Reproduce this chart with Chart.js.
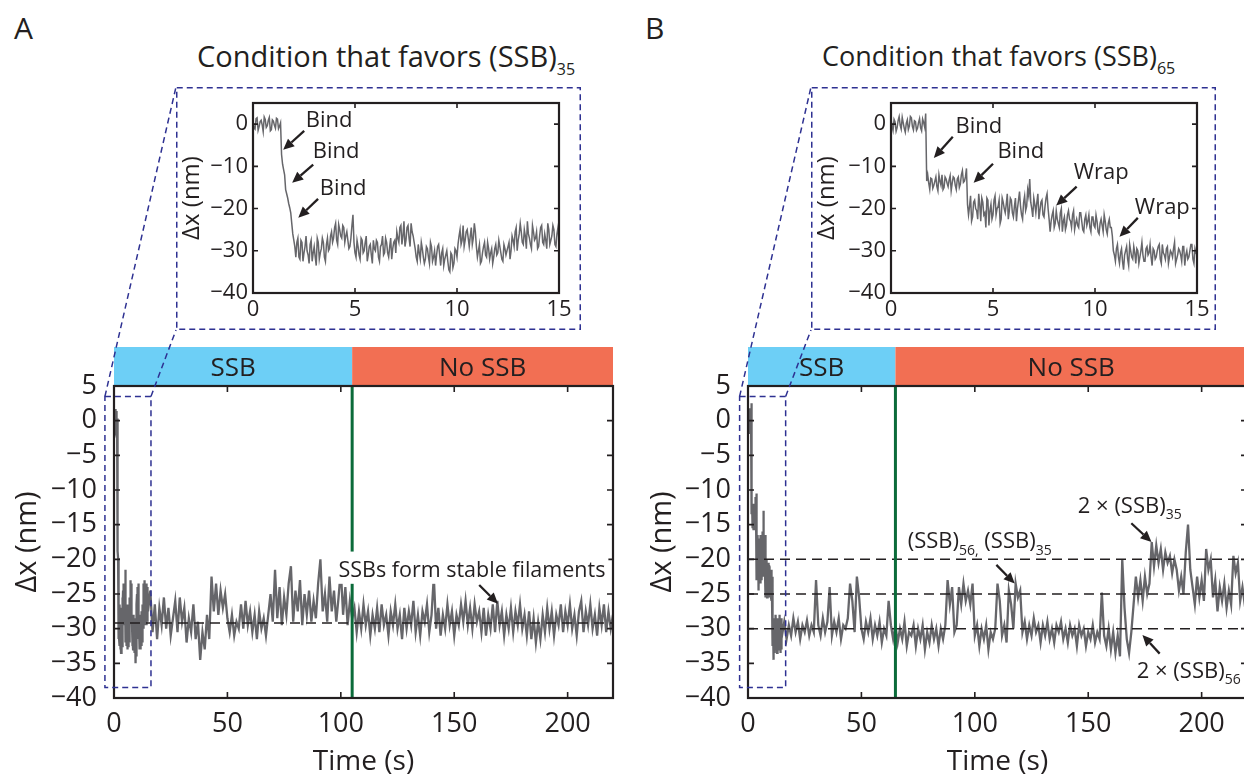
<!DOCTYPE html>
<html>
<head>
<meta charset="utf-8">
<script src="https://cdn.jsdelivr.net/npm/chart.js@4.4.1/dist/chart.umd.min.js"></script>
<style>
  html, body { margin: 0; padding: 0; background: #fff; width: 1244px; height: 776px; overflow: hidden; }
  body { position: relative; font-family: "Open Sans", sans-serif; color: #231f20; }
  canvas { position: absolute; display: block; }
  .lbl { position: absolute; white-space: nowrap; line-height: 1; }
  .sub { font-size: 16px; position: relative; top: 8px; }
</style>
</head>
<body>
<div class="lbl" style="left:14px; top:13px; font-size:30px;">A</div>
<div class="lbl" style="left:645px; top:13px; font-size:30px;">B</div>
<div class="lbl" style="left:197px; top:41px; font-size:29px;">Condition that favors (SSB)<span class="sub">35</span></div>
<div class="lbl" style="left:822px; top:42px; font-size:27px;">Condition that favors (SSB)<span class="sub">65</span></div>

<canvas id="mainA"></canvas>
<canvas id="mainB"></canvas>
<canvas id="insetA"></canvas>
<canvas id="insetB"></canvas>

<script>
// ---- Recorded extension traces (nm) ----
// First 15 s: samples at 0.0, 0.1, ... 15.0 s and the in-between samples at 0.05, 0.15, ... 14.95 s
const insetStep = 0.1;
const insetA = [
  0.8, -1.2, 1.5, -0.6, 0.9, -1.8, 1.1, -0.4, 1.6, -1.3, 0.7, -1.0, 1.2, -0.5,
  -7.2, -10.8, -15.5, -17.5, -19.8, -23.5, -27.5,
  -31.5, -27.0, -32.0, -28.0, -30.5, -26.5, -31.0, -28.5, -32.5, -29.0, -33.5, -28.0, -30.5, -27.0, -31.5, -28.5, -30.0, -26.5,
  -28.0, -24.5, -27.5, -23.8, -26.5, -24.0, -28.0, -25.5,
  -29.5, -27.0, -21.5, -30.5, -27.5,
  -31.0, -27.0, -30.5, -28.0, -32.5, -29.0, -31.0, -27.5, -30.0, -28.0, -32.5, -28.5, -31.0, -27.0, -30.5, -29.0, -32.0, -28.0, -30.5,
  -27.0, -24.5, -28.5, -23.0, -27.5, -24.0, -29.0, -25.5, -28.0,
  -31.5, -28.5, -32.0, -29.5, -33.0, -29.0, -31.5, -28.0, -32.5, -30.0, -31.0, -28.5, -33.5, -29.5, -32.0, -30.0, -34.5, -30.5, -34.0, -29.5, -31.5,
  -26.5, -28.5, -24.0, -27.5, -25.0, -29.0, -24.5, -27.0, -25.5,
  -31.5, -28.5, -32.5, -29.0, -31.0, -28.0, -32.0, -29.5, -31.5, -28.5, -30.5, -29.0, -32.0, -28.5, -31.0, -29.0, -32.0,
  -26.5, -29.0, -24.5, -27.5, -23.5, -28.0, -25.0, -29.5, -26.0, -28.5, -24.0, -27.5, -25.5, -29.0, -24.5, -28.0, -26.0, -29.5, -25.0, -27.5, -24.0, -28.5, -26.0, -27.5
];
const insetAMid = [
  -0.9, 1.3, -1.5, 0.6, -0.2, 1.7, -0.8, 0.9, -1.6, 1.0, -0.3, 1.4, -1.1, 0.3,
  -9.5, -12.0, -16.5, -18.8, -21.0, -26.0,
  -29.0,
  -28.0, -31.5, -27.5, -32.5, -29.0, -30.0, -33.0, -27.5, -30.5, -31.5, -27.0, -32.0, -29.5, -28.0, -32.5, -27.0, -29.5,
  -25.5, -27.0, -23.5, -28.5, -25.0, -27.0, -24.5, -26.5,
  -27.5, -29.0, -24.0, -28.0, -31.5,
  -29.0, -32.0, -27.5, -30.0, -26.5, -31.0, -28.5, -33.0, -29.5, -27.5, -31.5, -29.0, -26.5, -30.5, -28.0, -31.5, -27.0, -29.5, -27.5,
  -25.5, -28.0, -24.0, -26.5, -29.0, -24.5, -27.0, -23.5, -26.5,
  -29.5, -32.5, -30.5, -28.0, -31.5, -32.0, -29.5, -33.0, -29.0, -31.5, -33.5, -29.0, -31.0, -30.5, -33.5, -31.0, -32.5, -35.0, -31.0, -33.0, -30.0,
  -28.5, -25.0, -27.5, -29.0, -25.5, -27.0, -26.5, -28.5, -23.5,
  -29.0, -30.0, -33.0, -30.5, -28.0, -31.5, -29.5, -30.5, -33.0, -29.5, -31.0, -27.5, -30.5, -32.5, -29.5, -30.0, -28.0,
  -30.0, -27.5, -25.5, -30.0, -26.0, -25.5, -28.5, -26.5, -23.0, -27.0, -29.5, -25.5, -27.0, -29.5, -26.5, -24.0, -28.5, -27.5, -23.5, -28.5, -26.5, -25.0, -29.0, -24.5
];
const insetB = [
  1.2, -1.5, 0.5, -0.8, 1.8, -1.2, 0.3, -1.9, 1.0, -0.5, 1.5, -1.4, 0.6, -1.0, 1.3, -1.6, 0.4, 2.5,
  -12.0, -15.5, -13.0, -14.5, -12.5, -15.8, -13.5, -12.0, -15.0, -13.0, -14.8, -12.2, -14.0, -12.8, -15.5, -12.5, -14.2, -11.0, -13.5, -10.5,
  -21.5, -17.0, -22.0, -18.0, -20.5, -16.5, -23.0, -18.5, -21.0, -17.5, -24.0, -19.0, -21.5, -17.0, -20.0, -18.0, -22.5, -18.5, -21.0, -16.5,
  -20.5, -18.0, -22.0, -17.5, -20.0, -16.0, -21.5, -18.5, -20.5, -15.5, -13.0, -20.0, -17.5, -21.0, -16.5, -20.5, -18.0, -22.0, -17.5, -20.0,
  -25.5, -21.5, -24.5, -20.5, -23.5, -21.0, -25.5, -22.0, -24.0, -20.5, -23.0, -21.5, -25.0, -22.5, -24.5, -21.0, -25.0, -22.5, -24.0, -21.5,
  -25.5, -22.0, -24.5, -23.0, -26.0, -22.5, -25.5, -23.0, -26.0, -22.5, -24.5,
  -30.0, -32.5, -28.5, -33.0, -29.5, -34.5, -30.0, -32.0, -28.5, -31.5, -29.0, -33.0, -30.0, -31.5, -28.0, -32.5, -29.5, -31.0, -28.5, -33.5,
  -30.0, -31.5, -29.0, -32.0, -28.5, -31.0, -29.5, -33.0, -30.0, -31.5, -28.0, -32.0, -29.5, -31.0, -29.0, -33.5, -30.0, -31.5, -28.5, -32.0, -29.5, -31.0
];
const insetBMid = [
  -0.4, 1.1, -1.7, 0.9, -0.3, 1.6, -1.0, 0.2, -1.3, 1.8, -0.6, 0.8, -1.5, 0.4, -0.9, 1.2, -0.7,
  -13.5,
  -14.0, -12.8, -15.2, -13.5, -14.8, -12.0, -14.5, -15.5, -12.5, -14.0, -13.2, -15.8, -12.5, -14.5, -13.0, -15.0, -12.0, -13.8, -12.5, -19.0,
  -19.5, -23.0, -18.5, -20.0, -22.5, -19.0, -17.5, -21.5, -24.5, -18.0, -20.5, -22.5, -18.0, -21.5, -19.5, -23.5, -17.5, -20.0, -19.0, -22.5,
  -17.5, -21.0, -19.5, -23.0, -18.0, -19.5, -22.5, -17.0, -19.5, -17.0, -18.5, -22.0, -19.0, -18.5, -22.5, -18.5, -21.5, -19.5, -16.5, -22.5,
  -23.0, -20.5, -23.5, -22.5, -24.5, -20.0, -23.0, -25.0, -21.5, -22.5, -24.5, -20.5, -23.5, -24.0, -21.0, -23.0, -25.5, -21.5, -23.0, -24.5,
  -22.0, -24.0, -21.5, -25.5, -23.5, -24.0, -21.5, -25.0, -23.5, -24.5, -26.5,
  -31.0, -29.5, -31.5, -30.5, -32.5, -31.0, -29.0, -33.5, -30.0, -32.0, -30.5, -29.5, -33.0, -30.0, -31.0, -32.5, -29.0, -30.5, -31.5, -29.5,
  -32.0, -30.0, -28.5, -33.0, -30.5, -32.0, -29.0, -31.5, -30.5, -29.5, -33.0, -31.0, -30.0, -32.5, -29.0, -31.0, -32.0, -30.0, -28.5, -33.0, -30.5
];
// Remainder of each run, one sample per second from 16 s to 220 s
const tailStart = 16;
const tailA = [
  -24.5, -30.5, -26.5, -31.5, -27.0,
  -29.5, -25.5, -30.0, -27.0, -31.0, -28.5, -26.0, -30.5, -25.5, -29.0,
  -27.0, -32.0, -28.5, -30.5, -26.5,
  -31.5, -29.0, -34.5, -30.5, -33.0, -28.0, -31.5,
  -22.5, -27.5, -23.5, -28.0, -24.5, -27.0, -25.0, -28.5,
  -30.5, -28.0, -31.0, -29.0, -30.0,
  -26.5, -30.0, -26.0, -29.5, -27.5,
  -30.5, -28.0, -31.5, -27.5, -30.0, -28.5, -31.0, -28.0,
  -25.0, -29.0, -21.5, -28.5, -24.0, -29.5, -25.5,
  -28.0, -23.5, -21.0, -29.0, -24.5, -27.5, -23.0, -29.5, -25.0, -28.0,
  -24.5, -29.0, -26.0, -28.5, -23.5, -20.0, -27.5, -25.0, -29.0, -22.5,
  -27.5, -24.5, -29.0, -25.5, -21.5, -28.0, -24.0, -29.5, -26.0, -28.5,
  -27.0, -30.5, -27.5, -30.0, -26.5, -29.5, -27.5, -31.0, -28.0, -30.0,
  -27.0, -30.5, -26.5, -29.5, -28.0, -31.0, -27.5, -29.5, -26.5, -30.0,
  -28.0, -31.5, -27.0, -30.0, -27.5, -29.5, -26.0, -30.5, -28.0, -31.0,
  -27.5, -29.0, -26.5, -30.5, -28.0, -22.5, -30.0, -27.0, -31.0, -28.0,
  -30.0, -26.5, -29.5, -27.5, -31.0, -28.0, -29.5, -26.5, -29.0, -26.0,
  -29.5, -27.0, -30.0, -26.5, -29.0, -27.5, -30.5, -27.0, -31.0, -28.0,
  -30.0, -26.5, -30.5, -26.0, -29.5, -27.5, -31.0, -28.0, -30.0, -27.0,
  -30.5, -27.5, -29.5, -26.5, -30.0, -28.0, -31.0, -27.5, -31.5, -28.5,
  -32.0, -29.0, -31.5, -28.0, -30.5, -27.0, -30.0, -27.5, -31.0, -28.0,
  -29.5, -26.5, -30.5, -27.5, -29.5, -26.5, -30.0, -28.0, -31.0, -27.5,
  -26.0, -30.5, -27.5, -29.5, -26.5, -30.0, -28.0, -31.0, -27.0, -29.5,
  -26.5, -30.5, -27.5, -30.0, -28.0
];
const tailB = [
  -29.0, -31.5, -29.5, -31.0, -28.5, -30.5, -29.0, -31.5, -29.5, -30.5, -28.8, -31.0, -29.5, -30.5,
  -23.0,
  -29.5, -31.0, -28.5, -30.5, -29.0,
  -24.0,
  -31.0, -29.0, -30.5, -28.5, -31.5, -29.5, -30.0, -28.5,
  -23.5, -26.0, -30.5, -22.5, -25.5,
  -30.0, -31.5, -29.0, -30.5, -28.5, -31.5, -29.5, -31.0, -29.0, -32.0, -30.0, -31.0,
  -26.0,
  -29.5, -31.5, -29.5, -32.0, -30.0, -31.5, -29.0, -32.5, -30.5, -31.0, -29.5, -32.5, -30.0,
  -31.5, -29.5, -33.0, -30.5, -32.0, -29.5, -31.5, -30.0, -32.5, -30.0, -31.5, -29.5,
  -23.0, -26.5, -24.0,
  -30.5, -29.5,
  -24.0, -26.5, -23.5, -26.0, -24.5, -26.5, -23.5,
  -31.0, -29.5, -32.5, -30.0, -31.5, -29.5, -33.0, -30.5, -31.5, -30.0,
  -23.5, -26.0,
  -31.0, -29.5, -32.0,
  -24.5, -26.5, -30.0, -23.5, -25.5, -24.5,
  -30.5, -29.0, -31.5, -29.5, -31.0, -28.5, -30.5, -29.5, -32.0, -29.5, -31.0, -29.0, -31.5, -30.0, -32.0,
  -29.5, -30.5, -29.0, -31.5, -30.0, -32.0, -29.5, -31.0, -30.0, -32.5, -29.5, -31.0, -30.0, -32.5, -30.5,
  -31.5, -29.5, -32.0, -30.5, -31.5,
  -24.8,
  -31.0, -32.5, -30.0, -33.0, -30.5, -33.5, -31.0, -34.0,
  -20.0, -27.0, -31.5, -33.5, -30.5,
  -26.5, -22.5, -25.5, -23.0, -26.0, -22.5, -25.0, -23.5,
  -17.5, -21.0, -18.0, -20.5, -18.5, -21.5, -19.0, -20.5, -19.5, -22.0, -20.0, -21.5,
  -24.5, -22.5, -25.0,
  -19.0, -15.0, -21.5,
  -24.0, -26.5, -22.5, -25.5, -23.0, -26.0,
  -18.5, -21.5, -20.0,
  -25.5, -23.0, -27.5, -24.0, -26.0, -23.5, -27.0, -24.5, -26.5,
  -19.5, -22.0, -20.5,
  -26.0, -24.0, -26.5, -24.5
];

// Protocol phases (s) and reference levels (nm)
const switchA = 105, switchB = 65, runEnd = 220;
const phaseLabels = ['SSB', 'No SSB'];
const levelsA = [-29.2];
const levelsB = [-20, -25, -30];

// ---- Styling ----
const FONT = '"Open Sans", sans-serif';
const INK = '#231f20';
const TRACE = '#66666a';
const NAVY = '#2e3192';
const SKY = '#6dcff6';
const CORAL = '#f26f53';
const GREEN = '#0b6b3a';

// Canvas placement (page px) and the plot area inside each
const frames = {
  mainA:  { left: 0,   top: 80, width: 625, height: 696, area: { left: 114, top: 386, right: 613,  bottom: 698 } },
  mainB:  { left: 630, top: 80, width: 630, height: 696, area: { left: 748, top: 386, right: 1247, bottom: 698 } },
  insetA: { left: 176, top: 87, width: 405, height: 243, area: { left: 253, top: 103, right: 559,  bottom: 293 } },
  insetB: { left: 811, top: 87, width: 405, height: 243, area: { left: 891, top: 103, right: 1197, bottom: 293 } }
};

function series(values, start, step) {
  return values.map((v, i) => ({ x: +(start + i * step).toFixed(2), y: v }));
}
function merged(a, b) {
  return a.concat(b).sort((p, q) => p.x - q.x);
}
const headA = merged(series(insetA, 0, insetStep), series(insetAMid, insetStep / 2, insetStep));
const headB = merged(series(insetB, 0, insetStep), series(insetBMid, insetStep / 2, insetStep));
const fullA = headA.concat(series(tailA, tailStart, 1));
const fullB = headB.concat(series(tailB, tailStart, 1));

const fmt = v => (v < 0 ? '\u2212' + Math.abs(v) : String(v));

function richText(ctx, parts, x, y, size, align) {
  const widths = parts.map(p => {
    ctx.font = (p[1] ? Math.round(size * 0.62) : size) + 'px ' + FONT;
    return ctx.measureText(p[0]).width;
  });
  const total = widths.reduce((a, b) => a + b, 0);
  let cx = align === 'center' ? x - total / 2 : x;
  ctx.textAlign = 'left';
  ctx.textBaseline = 'alphabetic';
  parts.forEach((p, i) => {
    ctx.font = (p[1] ? Math.round(size * 0.62) : size) + 'px ' + FONT;
    ctx.fillText(p[0], cx, p[1] ? y + size * 0.3 : y);
    cx += widths[i];
  });
}

function arrow(ctx, x0, y0, x1, y1) {
  const a = Math.atan2(y1 - y0, x1 - x0), head = 11, half = 5;
  const bx = x1 - head * Math.cos(a), by = y1 - head * Math.sin(a);
  ctx.strokeStyle = INK; ctx.fillStyle = INK; ctx.lineWidth = 2.3;
  ctx.beginPath(); ctx.moveTo(x0, y0); ctx.lineTo(bx, by); ctx.stroke();
  ctx.beginPath();
  ctx.moveTo(x1, y1);
  ctx.lineTo(bx + half * Math.sin(a), by - half * Math.cos(a));
  ctx.lineTo(bx - half * Math.sin(a), by + half * Math.cos(a));
  ctx.closePath(); ctx.fill();
}

const decor = {
  id: 'decor',
  afterDatasetsDraw(chart, args, o) {
    const { ctx, chartArea: ca, scales: { x, y } } = chart;
    const px = v => x.getPixelForValue(v), py = v => y.getPixelForValue(v);
    ctx.save();

    // dashed reference levels
    ctx.strokeStyle = INK; ctx.lineWidth = 1.5; ctx.setLineDash([10, 6]);
    (o.levels || []).forEach(l => {
      ctx.beginPath(); ctx.moveTo(ca.left, py(l)); ctx.lineTo(ca.right, py(l)); ctx.stroke();
    });
    ctx.setLineDash([]);

    // buffer exchange marker
    if (o.switchAt != null) {
      ctx.strokeStyle = GREEN; ctx.lineWidth = 3;
      ctx.beginPath(); ctx.moveTo(px(o.switchAt), ca.top); ctx.lineTo(px(o.switchAt), ca.bottom); ctx.stroke();
    }

    // phase bar above the plot
    if (o.phases) {
      o.phases.forEach(ph => {
        const l = px(ph.from), r = px(ph.to);
        ctx.fillStyle = ph.color;
        ctx.fillRect(l, ca.top - o.barHeight, r - l, o.barHeight);
        ctx.fillStyle = INK;
        richText(ctx, [[ph.label]], (l + r) / 2, ca.top - o.barHeight / 2 + 9, 26, 'center');
      });
    }

    // axes box with inward ticks on all four sides
    ctx.strokeStyle = INK; ctx.lineWidth = 1.6;
    const tl = o.tickLen;
    x.ticks.forEach(t => {
      const p = px(t.value);
      ctx.beginPath(); ctx.moveTo(p, ca.bottom); ctx.lineTo(p, ca.bottom - tl);
      ctx.moveTo(p, ca.top); ctx.lineTo(p, ca.top + tl); ctx.stroke();
    });
    y.ticks.forEach(t => {
      const p = py(t.value);
      ctx.beginPath(); ctx.moveTo(ca.left, p); ctx.lineTo(ca.left + tl, p);
      ctx.moveTo(ca.right, p); ctx.lineTo(ca.right - tl, p); ctx.stroke();
    });
    ctx.lineWidth = 2.2;
    ctx.strokeRect(ca.left, ca.top, ca.right - ca.left, ca.bottom - ca.top);

    // annotations
    (o.arrows || []).forEach(a => arrow(ctx, px(a.from[0]), py(a.from[1]), px(a.to[0]), py(a.to[1])));
    (o.notes || []).forEach(n => {
      const size = n.size;
      if (n.bg) {
        ctx.font = size + 'px ' + FONT;
        const w = n.parts.reduce((s, p) => s + ctx.measureText(p[0]).width, 0);
        const lx = n.align === 'center' ? px(n.x) - w / 2 : px(n.x);
        ctx.fillStyle = '#fff';
        ctx.fillRect(lx - 3, py(n.y) - size * 1.2, w + 6, size * 1.5);
      }
      ctx.fillStyle = INK;
      richText(ctx, n.parts, px(n.x), py(n.y), size, n.align);
    });

    // enlarged-region box and its leader lines to the inset
    if (o.zoom) {
      const z = o.zoom, off = o.offset, ins = o.inset;
      const l = px(z.x0), r = px(z.x1), t = py(z.y1), b = py(z.y0);
      const il = ins.left - off.left, it = ins.top - off.top, ib = ins.top + ins.height - off.top;
      ctx.strokeStyle = NAVY; ctx.lineWidth = 1.5; ctx.setLineDash([6, 4]);
      ctx.strokeRect(l, t, r - l, b - t);
      ctx.beginPath(); ctx.moveTo(l, t); ctx.lineTo(il, it); ctx.stroke();
      ctx.beginPath(); ctx.moveTo(r, t); ctx.lineTo(il, ib); ctx.stroke();
      ctx.setLineDash([]);
    }
    if (o.outline) {
      ctx.strokeStyle = NAVY; ctx.lineWidth = 1.5; ctx.setLineDash([6, 4]);
      ctx.strokeRect(0.75, 0.75, chart.width - 1.5, chart.height - 1.5);
      ctx.setLineDash([]);
    }
    ctx.restore();
  }
};

function build(id, o) {
  const f = frames[id];
  const cv = document.getElementById(id);
  cv.width = f.width; cv.height = f.height;
  cv.style.left = f.left + 'px'; cv.style.top = f.top + 'px';
  const L = f.area.left - f.left, T = f.area.top - f.top;
  const R = f.left + f.width - f.area.right, B = f.top + f.height - f.area.bottom;
  return new Chart(cv, {
    type: 'line',
    data: { datasets: [{ data: o.points, borderColor: TRACE, borderWidth: o.lineWidth, borderJoinStyle: 'miter', pointRadius: 0, tension: 0, fill: false }] },
    options: {
      responsive: false, animation: false, events: [], devicePixelRatio: 1,
      layout: { padding: { left: 0, top: T, right: R, bottom: 0 } },
      plugins: { legend: { display: false }, tooltip: { enabled: false }, decor: o.decor },
      scales: {
        x: {
          type: 'linear', min: 0, max: o.xMax,
          afterFit: s => { s.height = B; },
          grid: { display: false, drawTicks: false }, border: { display: false },
          ticks: { stepSize: o.xStep, includeBounds: false, autoSkip: false, maxRotation: 0,
                   padding: o.xPad, color: INK, font: { family: FONT, size: o.tickSize, lineHeight: 1 }, callback: v => fmt(v) },
          title: o.xTitle
            ? { display: true, text: o.xTitle, color: INK, font: { family: FONT, size: o.titleSize, lineHeight: 1 }, padding: { top: 0, bottom: o.xTitlePad } }
            : { display: false }
        },
        y: {
          type: 'linear', min: -40, max: 5,
          afterFit: s => { s.width = L; },
          grid: { display: false, drawTicks: false }, border: { display: false },
          ticks: { stepSize: 5, padding: o.yPad, color: INK, font: { family: FONT, size: o.tickSize, lineHeight: 1 },
                   callback: v => (v % o.yLabelEvery === 0 ? fmt(v) : '') },
          title: { display: true, text: '\u0394x (nm)', color: INK, font: { family: FONT, size: o.yTitleSize, lineHeight: 1 },
                   padding: { top: o.yTitlePad, bottom: 0 } }
        }
      }
    },
    plugins: [decor]
  });
}

build('mainA', {
  points: fullA, lineWidth: 2.3, xMax: runEnd, xStep: 50, tickSize: 27, titleSize: 28, yTitleSize: 29,
  xPad: 13, yPad: 17, xTitle: 'Time (s)', xTitlePad: 0, yTitlePad: 13.5, yLabelEvery: 5,
  decor: {
    levels: levelsA, switchAt: switchA, tickLen: 6, barHeight: 39,
    phases: [ { from: 0, to: switchA, color: SKY, label: phaseLabels[0] },
              { from: switchA, to: runEnd, color: CORAL, label: phaseLabels[1] } ],
    zoom: { x0: -4, x1: 16.3, y0: -38.5, y1: 3.5 }, offset: frames.mainA, inset: frames.insetA,
    notes: [ { parts: [['SSBs form stable filaments']], x: 157.8, y: -22.6, size: 21.5, align: 'center', bg: true } ],
    arrows: [ { from: [161, -23.7], to: [169.3, -26.4] } ]
  }
});

build('mainB', {
  points: fullB, lineWidth: 2.3, xMax: runEnd, xStep: 50, tickSize: 27, titleSize: 28, yTitleSize: 29,
  xPad: 13, yPad: 17, xTitle: 'Time (s)', xTitlePad: 0, yTitlePad: 18, yLabelEvery: 5,
  decor: {
    levels: levelsB, switchAt: switchB, tickLen: 6, barHeight: 39,
    phases: [ { from: 0, to: switchB, color: SKY, label: phaseLabels[0] },
              { from: switchB, to: runEnd, color: CORAL, label: phaseLabels[1] } ],
    zoom: { x0: -3.7, x1: 16.6, y0: -38.5, y1: 3.5 }, offset: frames.mainB, inset: frames.insetB,
    notes: [
      { parts: [['(SSB)'], ['56,', true], [' (SSB)'], ['35', true]], x: 70.4, y: -18.4, size: 22, align: 'left' },
      { parts: [['2 \u00d7 (SSB)'], ['35', true]], x: 145.4, y: -13.3, size: 22, align: 'left' },
      { parts: [['2 \u00d7 (SSB)'], ['56', true]], x: 171.4, y: -37.1, size: 22, align: 'left' }
    ],
    arrows: [
      { from: [109.5, -20.8], to: [117.6, -23.5] },
      { from: [169, -14.8], to: [177.9, -17.5] },
      { from: [181.5, -33.6], to: [173.9, -30.9] }
    ]
  }
});

build('insetA', {
  points: headA, lineWidth: 1.5, xMax: 15, xStep: 5, tickSize: 22, titleSize: 22, yTitleSize: 24,
  xPad: 6, yPad: 5, xTitle: null, yTitlePad: 4, yLabelEvery: 10,
  decor: {
    tickLen: 5, outline: true,
    notes: [
      { parts: [['Bind']], x: 3.73, y: -0.6, size: 22, align: 'center' },
      { parts: [['Bind']], x: 4.07, y: -8.0, size: 22, align: 'center' },
      { parts: [['Bind']], x: 4.42, y: -16.7, size: 22, align: 'center' }
    ],
    arrows: [
      { from: [2.51, -1.6], to: [1.48, -6.1] },
      { from: [2.95, -9.6], to: [1.92, -13.9] },
      { from: [3.19, -17.7], to: [2.22, -22.2] }
    ]
  }
});

build('insetB', {
  points: headB, lineWidth: 1.5, xMax: 15, xStep: 5, tickSize: 22, titleSize: 22, yTitleSize: 24,
  xPad: 6, yPad: 5, xTitle: null, yTitlePad: 4, yLabelEvery: 10,
  decor: {
    tickLen: 5, outline: true,
    notes: [
      { parts: [['Bind']], x: 4.31, y: -2.0, size: 22, align: 'center' },
      { parts: [['Bind']], x: 6.36, y: -8.0, size: 22, align: 'center' },
      { parts: [['Wrap']], x: 10.3, y: -12.9, size: 22, align: 'center' },
      { parts: [['Wrap']], x: 13.3, y: -21.2, size: 22, align: 'center' }
    ],
    arrows: [
      { from: [3.03, -3.0], to: [2.1, -8.0] },
      { from: [5.0, -9.4], to: [4.05, -13.9] },
      { from: [9.1, -14.8], to: [8.1, -19.3] },
      { from: [12.1, -22.2], to: [11.2, -26.7] }
    ]
  }
});
</script>
</body>
</html>
